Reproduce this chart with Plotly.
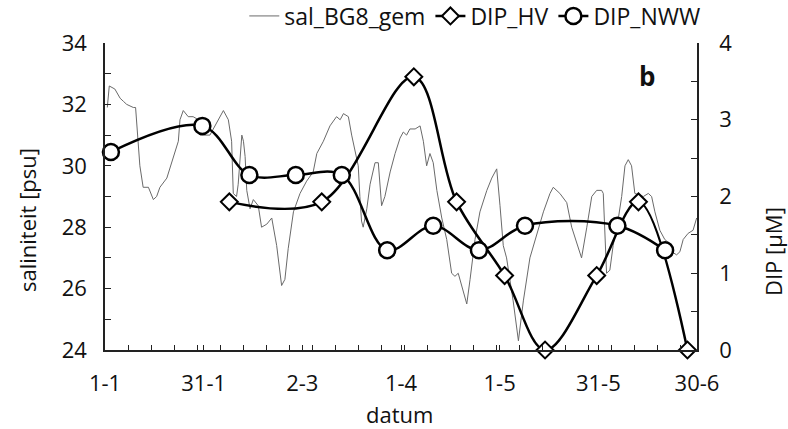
import plotly.graph_objects as go

# x axis: day number since 1 January (0 = 1-1, 180 = 30-6)
tick_days = [0, 30, 60, 90, 120, 150, 180]
tick_labels = ["1-1", "31-1", "2-3", "1-4", "1-5", "31-5", "30-6"]

# salinity sal_BG8_gem (psu)
sal_day = [0.7, 1.3, 3.0, 4.6, 5.6, 6.6, 8.6, 9.3, 10.6, 11.6, 13.2, 14.7, 15.7, 16.7,
           18.8, 20.3, 21.3, 22.3, 22.8, 23.8, 25.3, 26.8, 28.4, 28.9, 31.9,
           36.0, 37.5, 38.5, 39.0, 40.0, 40.5, 41.6, 42.1, 42.6, 43.1, 44.1, 45.1, 46.6,
           47.6, 49.2, 50.7, 52.2, 53.7, 54.7, 55.7, 57.3, 59.3, 60.3,
           61.3, 63.3, 64.4, 66.4, 68.4, 70.4, 71.5, 72.5, 74.0, 75.0, 76.0, 77.0, 77.5,
           78.0, 78.5, 79.6, 80.6, 82.1, 83.1, 84.1, 85.1, 86.7, 88.2, 89.7, 90.7, 91.7,
           92.7, 94.3, 95.8, 96.8, 97.8, 98.8, 99.8, 100.9, 102.4, 103.9, 105.4, 106.4,
           107.4, 108.5, 110.0, 111.0, 112.5, 114.0, 116.1, 117.6, 119.1, 120.1, 121.1,
           122.1, 124.1, 125.7, 126.7, 127.2, 129.2, 131.3, 133.3, 135.3, 136.3, 138.3,
           140.4, 141.9, 143.4, 144.9, 146.5, 148.0, 149.5, 151.0, 151.5, 152.0, 152.5,
           153.5, 154.5, 156.1, 157.1, 158.1, 159.1, 160.1, 161.1, 163.7, 165.2, 166.2,
           167.2, 168.7, 170.2, 171.3, 172.3, 173.8, 174.8, 175.8, 177.3, 178.8, 179.9]
sal_val = [31.9, 32.6, 32.5, 32.2, 32.1, 32.0, 31.9, 31.9, 30.0, 29.3, 29.3, 28.9, 29.0, 29.3,
           29.6, 30.1, 30.5, 30.8, 31.5, 31.8, 31.6, 31.6, 31.5, 31.0, 31.0,
           31.8, 31.5, 30.8, 29.1, 29.0, 29.4, 31.0, 30.8, 30.3, 29.2, 28.6, 28.9, 28.7,
           28.0, 28.1, 28.3, 27.4, 26.1, 26.3, 27.3, 28.5, 29.1, 29.3,
           29.5, 29.8, 30.4, 30.8, 31.3, 31.6, 31.5, 31.7, 31.6, 31.0, 30.5, 30.0, 29.0,
           28.2, 28.0, 28.6, 29.4, 30.1, 30.1, 28.7, 29.0, 29.8, 30.4, 30.9, 31.1, 31.0,
           31.2, 31.2, 31.3, 30.8, 30.0, 30.4, 30.1, 29.2, 28.3, 27.6, 26.5, 26.4,
           26.5, 26.1, 25.5, 26.3, 27.6, 28.5, 29.2, 29.6, 29.9, 28.7, 27.4,
           27.0, 25.6, 24.3, 25.2, 25.6, 27.0, 27.8, 28.5, 29.1, 29.3, 29.1,
           28.8, 28.0, 27.5, 27.0, 28.0, 29.0, 29.2, 29.2, 29.1, 27.6, 26.5,
           26.6, 27.4, 28.3, 29.0, 30.0, 30.2, 30.0, 29.1, 29.0, 29.1, 29.0,
           28.5, 27.9, 27.6, 27.5, 27.2, 27.1, 27.2, 27.6, 27.8, 27.9, 28.3]

# DIP (µM)
hv_day = [37.8, 65.9, 93.9, 106.9, 121.5, 133.8, 149.5, 162.2, 177.1]
hv_val = [1.93, 1.93, 3.56, 1.93, 0.97, 0.0, 0.97, 1.93, 0.0]
nww_day = [1.8, 29.6, 43.9, 58.0, 72.0, 85.8, 99.8, 113.7, 127.7, 155.8, 170.3]
nww_val = [2.58, 2.92, 2.28, 2.28, 2.28, 1.30, 1.62, 1.30, 1.62, 1.62, 1.30]

FONT = "Open Sans"
AX = "#222222"
FS = 22

fig = go.Figure()
fig.add_trace(go.Scatter(
    x=sal_day, y=sal_val, name="sal_BG8_gem", mode="lines",
    line=dict(color="#6a6a6a", width=1), yaxis="y"))
fig.add_trace(go.Scatter(
    x=hv_day, y=hv_val, name="DIP_HV", mode="lines+markers",
    line=dict(color="black", width=2.5, shape="spline", smoothing=1),
    marker=dict(symbol="diamond", size=13, color="white",
                line=dict(color="black", width=2)),
    cliponaxis=False, yaxis="y2"))
fig.add_trace(go.Scatter(
    x=nww_day, y=nww_val, name="DIP_NWW", mode="lines+markers",
    line=dict(color="black", width=2.5, shape="spline", smoothing=1),
    marker=dict(symbol="circle", size=16, color="white",
                line=dict(color="black", width=2.5)),
    cliponaxis=False, yaxis="y2"))

fig.update_layout(
    width=788, height=429,
    margin=dict(l=105, r=91, t=43, b=79, autoexpand=False),
    paper_bgcolor="white", plot_bgcolor="white",
    font=dict(family=FONT, size=FS, color="#111111"),
    showlegend=True,
    legend=dict(orientation="h", x=1.014, xanchor="right", y=1.088, yanchor="middle",
                font=dict(size=23), bgcolor="rgba(0,0,0,0)", itemwidth=30,
                tracegroupgap=0),
    xaxis=dict(range=[0, 180], tickmode="array", tickvals=tick_days, ticktext=tick_labels,
               showgrid=False, zeroline=False, showline=True, linecolor=AX, linewidth=1.5,
               ticks="inside", ticklen=5, tickcolor=AX, tickwidth=1,
               ticklabelstandoff=13,
               minor=dict(dtick=7, tick0=0, ticks="inside", ticklen=5, tickcolor=AX,
                          showgrid=False),
               tickfont=dict(size=FS)),
    yaxis=dict(range=[24, 34], tickmode="linear", tick0=24, dtick=2,
               showgrid=False, zeroline=False, showline=True, linecolor=AX, linewidth=1.5,
               ticks="inside", ticklen=6, tickcolor=AX, tickwidth=1,
               ticklabelstandoff=12,
               minor=dict(dtick=1, ticks="inside", ticklen=6, tickcolor=AX, showgrid=False),
               tickfont=dict(size=FS)),
    yaxis2=dict(range=[0, 4], tickmode="linear", tick0=0, dtick=1, overlaying="y",
                side="right", showgrid=False, zeroline=False, showline=True,
                linecolor=AX, linewidth=1.5, ticks="inside", ticklen=6, tickcolor=AX,
                tickwidth=1, ticklabelstandoff=16,
                minor=dict(dtick=0.5, ticks="inside", ticklen=6, tickcolor=AX,
                           showgrid=False),
                tickfont=dict(size=FS)),
)

fig.add_annotation(text="saliniteit [psu]", xref="paper", yref="paper",
                   x=(27 - 105) / 592, y=(350 - 220) / 307, textangle=-90,
                   showarrow=False, font=dict(size=FS), xanchor="center", yanchor="middle")
fig.add_annotation(text="DIP [µM]", xref="paper", yref="paper",
                   x=(773 - 105) / 592, y=(350 - 252) / 307, textangle=-90,
                   showarrow=False, font=dict(size=FS), xanchor="center", yanchor="middle")
fig.add_annotation(text="datum", xref="paper", yref="paper",
                   x=(399 - 105) / 592, y=-(414 - 350) / 307,
                   showarrow=False, font=dict(size=FS), xanchor="center", yanchor="middle")
fig.add_annotation(text="<b>b</b>", xref="paper", yref="paper",
                   x=(647 - 105) / 592, y=(350 - 76) / 307,
                   showarrow=False, font=dict(size=26), xanchor="center", yanchor="middle")

fig.write_html("out.html")
